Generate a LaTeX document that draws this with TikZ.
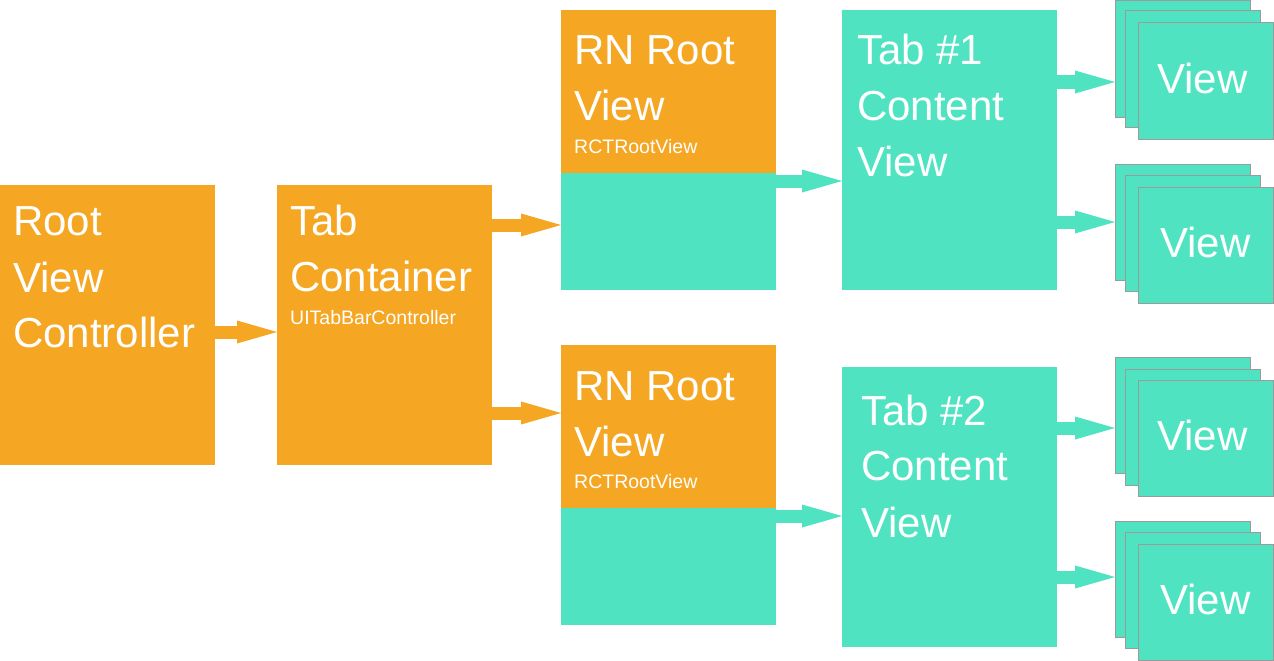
\documentclass[tikz,border=0pt]{standalone}
\usepackage{fontspec}
\setmainfont{Liberation Sans}
\usetikzlibrary{arrows.meta}
\definecolor{rnorange}{HTML}{F5A623}
\definecolor{rnteal}{HTML}{50E3C2}
\definecolor{stackedge}{HTML}{9B9B9B}

\begin{document}
\begin{tikzpicture}[x=1pt,y=-1pt,
  box/.style={anchor=north west, inner sep=0pt, outer sep=0pt,
    minimum width=215pt, minimum height=280pt, fill=#1},
  headbox/.style={anchor=north west, inner sep=0pt, outer sep=0pt,
    minimum width=215pt, minimum height=163pt, fill=rnorange},
  viewbox/.style={anchor=north west, inner sep=0pt, outer sep=0pt,
    minimum width=135pt, minimum height=116pt, fill=rnteal,
    draw=stackedge, line width=1pt},
  big/.style={anchor=base west, inner sep=0pt, text=white,
    font=\fontsize{42}{50}\selectfont},
  small/.style={anchor=base west, inner sep=0pt, text=white,
    font=\fontsize{19.5}{23}\selectfont},
  viewlabel/.style={anchor=base, inner sep=0pt, text=white,
    font=\fontsize{42}{50}\selectfont},
  flow/.style={draw=#1, line width=13pt,
    -{Triangle[length=40pt,width=23pt,line width=0pt]}},
]
\useasboundingbox (0,0) rectangle (1274,661);

% controllers
\node[box=rnorange] (rvc) at (0,185) {};
\node[big] (rvc1) at (13,235) {Root};
\node[big] (rvc2) at (13,292) {View};
\node[big] (rvc3) at (13,347) {Controller};

\node[box=rnorange] (tc) at (277,185) {};
\node[big] (tc1) at (290,235) {Tab};
\node[big] (tc2) at (290,291) {Container};
\node[small] (tc3) at (290,324) {UITabBarController};

% React Native root views
\node[box=rnteal] (rn1) at (561,10) {};
\node[headbox] (rn1h) at (561,10) {};
\node[big] (rn1a) at (574,65) {RN Root};
\node[big] (rn1b) at (574,120) {View};
\node[small] (rn1c) at (574,153) {RCTRootView};

\node[box=rnteal] (rn2) at (561,345) {};
\node[headbox] (rn2h) at (561,345) {};
\node[big] (rn2a) at (574,400) {RN Root};
\node[big] (rn2b) at (574,456) {View};
\node[small] (rn2c) at (574,488) {RCTRootView};

% tab content views
\node[box=rnteal] (tab1) at (842,10) {};
\node[big] (tab1a) at (857,65) {Tab \#1};
\node[big] (tab1b) at (857,120) {Content};
\node[big] (tab1c) at (857,176) {View};

\node[box=rnteal] (tab2) at (842,367) {};
\node[big] (tab2a) at (861,425) {Tab \#2};
\node[big] (tab2b) at (861,480) {Content};
\node[big] (tab2c) at (861,537) {View};

% stacks of views
\node[viewbox] (s1a) at (1115,1) {};
\node[viewbox] (s1b) at (1125,11) {};
\node[viewbox] (s1c) at (1138,23) {};
\node[viewlabel] (s1t) at ([xshift=-3pt,yshift=-12pt]s1c.center) {View};

\node[viewbox] (s2a) at (1115,164) {};
\node[viewbox] (s2b) at (1125,175) {};
\node[viewbox] (s2c) at (1138,187) {};
\node[viewlabel] (s2t) at ([yshift=-12pt]s2c.center) {View};

\node[viewbox] (s3a) at (1115,357) {};
\node[viewbox] (s3b) at (1125,369) {};
\node[viewbox] (s3c) at (1138,380) {};
\node[viewlabel] (s3t) at ([xshift=-3pt,yshift=-12pt]s3c.center) {View};

\node[viewbox] (s4a) at (1115,521) {};
\node[viewbox] (s4b) at (1125,532) {};
\node[viewbox] (s4c) at (1138,544) {};
\node[viewlabel] (s4t) at ([yshift=-12pt]s4c.center) {View};

% connectors
\draw[flow=rnorange] ([yshift=-147pt]rvc.north east) coordinate (p1) -- (p1 -| tc.west);
\draw[flow=rnorange] ([yshift=-40pt]tc.north east) coordinate (p2) -- (p2 -| rn1.west);
\draw[flow=rnorange] ([yshift=-228pt]tc.north east) coordinate (p3) -- (p3 -| rn2.west);
\draw[flow=rnteal] ([yshift=-171pt]rn1.north east) coordinate (p4) -- (p4 -| tab1.west);
\draw[flow=rnteal] ([yshift=-171pt]rn2.north east) coordinate (p5) -- (p5 -| tab2.west);
\draw[flow=rnteal] ([yshift=-72pt]tab1.north east) coordinate (p6) -- (p6 -| s1a.west);
\draw[flow=rnteal] ([yshift=-212pt]tab1.north east) coordinate (p7) -- (p7 -| s2a.west);
\draw[flow=rnteal] ([yshift=-61pt]tab2.north east) coordinate (p8) -- (p8 -| s3a.west);
\draw[flow=rnteal] ([yshift=-210pt]tab2.north east) coordinate (p9) -- (p9 -| s4a.west);
\end{tikzpicture}
\end{document}
